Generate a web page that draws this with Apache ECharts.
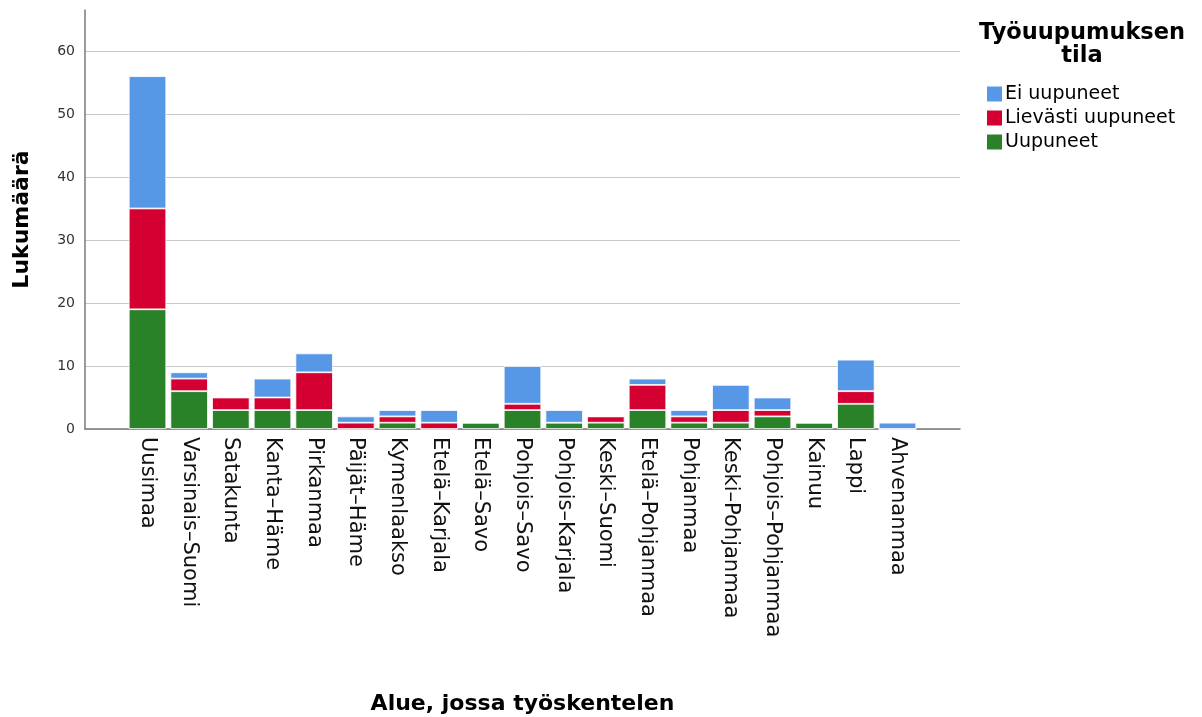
<!DOCTYPE html>
<html>
<head>
<meta charset="utf-8">
<script src="https://cdn.jsdelivr.net/npm/echarts@6/dist/echarts.min.js"></script>
<style>
html,body{margin:0;padding:0;background:#fff;}
#chart{width:1202px;height:717px;}
</style>
</head>
<body>
<div id="chart"></div>
<script>
const categories = ['Uusimaa','Varsinais–Suomi','Satakunta','Kanta–Häme','Pirkanmaa','Päijät–Häme','Kymenlaakso','Etelä–Karjala','Etelä–Savo','Pohjois–Savo','Pohjois–Karjala','Keski–Suomi','Etelä–Pohjanmaa','Pohjanmaa','Keski–Pohjanmaa','Pohjois–Pohjanmaa','Kainuu','Lappi','Ahvenanmaa'];
const uupuneet = [19,6,3,3,3,0,1,0,1,3,1,1,3,1,1,2,1,4,0];
const lievasti = [16,2,2,2,6,1,1,1,0,1,0,1,4,1,2,1,0,2,0];
const eiUupuneet = [21,1,0,3,3,1,1,2,0,6,2,0,1,1,4,2,0,5,1];
const yTicks = [0,10,20,30,40,50,60];

const font = 'DejaVu Sans, sans-serif';
const pad = arr => [null].concat(arr, [null]);
const axisCats = [''].concat(categories, ['']);
const gridColors = yTicks.map(() => '#c8c8c8').concat(['rgba(0,0,0,0)']);

const chart = echarts.init(document.getElementById('chart'));
const mk = (name, data, color) => ({
  name, type: 'bar', stack: 'total', data: pad(data),
  barCategoryGap: '10%',
  itemStyle: {color, borderColor: '#ffffff', borderWidth: 0.8},
  emphasis: {disabled: true}
});
chart.setOption({
  animation: false,
  textStyle: {fontFamily: font},
  grid: {left: 85, right: 242, top: 10, bottom: 288, containLabel: false, outerBoundsMode: 'none'},
  title: {
    text: 'Työuupumuksen\ntila', left: 1077, top: 17, textAlign: 'center',
    textStyle: {fontFamily: font, fontSize: 22.5, fontWeight: 'bold', color: '#000', lineHeight: 23}
  },
  legend: {
    data: ['Ei uupuneet','Lievästi uupuneet','Uupuneet'],
    orient: 'vertical', left: 980, top: 79, itemGap: 4,
    itemWidth: 17, itemHeight: 17, icon: 'rect',
    textStyle: {fontFamily: font, fontSize: 19, color: '#000', padding: [0,0,0,-3], lineHeight: 20}
  },
  xAxis: {
    type: 'category', data: axisCats,
    name: 'Alue, jossa työskentelen', nameLocation: 'middle', nameGap: 264,
    nameTextStyle: {fontFamily: font, fontSize: 22, fontWeight: 'bold', color: '#000'},
    axisLine: {lineStyle: {color: '#7a7a7a', width: 1.5}},
    axisTick: {show: false},
    axisLabel: {rotate: -90, interval: 0, fontSize: 21, color: '#111', margin: 8, fontFamily: font}
  },
  yAxis: {
    type: 'value', min: 0, max: 66.5, interval: 10,
    name: 'Lukumäärä', nameLocation: 'middle', nameGap: 52, nameRotate: 90,
    nameTextStyle: {fontFamily: font, fontSize: 22, fontWeight: 'bold', color: '#000'},
    axisLine: {show: true, lineStyle: {color: '#7a7a7a', width: 1.5}},
    axisTick: {show: false},
    axisLabel: {showMaxLabel: false, fontSize: 14, color: '#333', margin: 10, fontFamily: font},
    splitLine: {show: true, lineStyle: {color: gridColors, width: 1}}
  },
  series: [
    mk('Uupuneet', uupuneet, '#2a8228'),
    mk('Lievästi uupuneet', lievasti, '#d50032'),
    mk('Ei uupuneet', eiUupuneet, '#5798e6')
  ]
});
</script>
</body>
</html>
